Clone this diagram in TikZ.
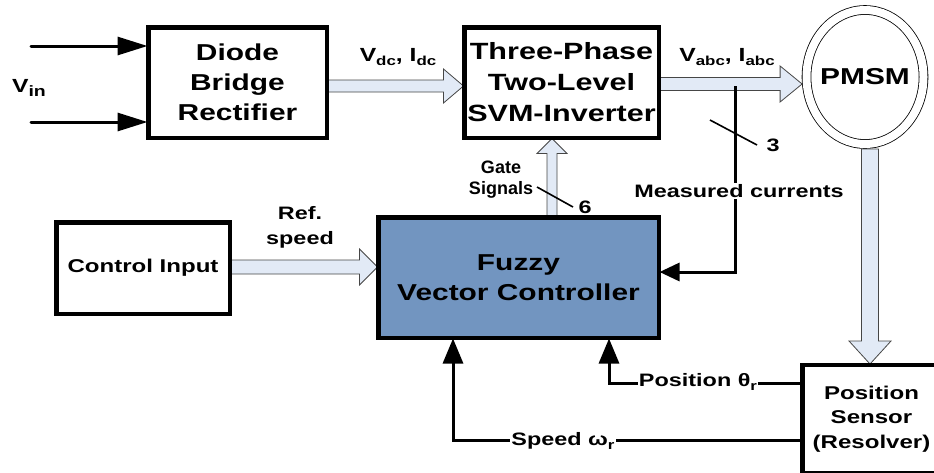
\documentclass[tikz,border=0pt]{standalone}
\usepackage{fontspec}
\setmainfont{Liberation Sans}[FakeStretch=1.3]
\newfontfamily\plainsans{Liberation Sans}
\usetikzlibrary{calc,arrows.meta,shapes.geometric}
\definecolor{ctrlblue}{RGB}{114,149,192}
\definecolor{hollowfill}{RGB}{226,234,246}
\definecolor{hollowline}{RGB}{70,70,70}
\newcommand\fs[2]{\fontsize{#1}{#2}\selectfont\bfseries}
\newcommand\lo[1]{\raisebox{-0.22em}{\fs{13}{13}#1}}
\newcommand\hollow[5]{%
  \coordinate (hb) at ($(#2)!#5pt!(#1)$);
  \filldraw[hollowarrow] ($(#1)!#3pt!90:(#2)$) -- ($(hb)!#3pt!90:(#2)$) -- ($(hb)!#4pt!90:(#2)$)
    -- (#2) -- ($(hb)!#4pt!-90:(#2)$) -- ($(hb)!#3pt!-90:(#2)$) -- ($(#1)!#3pt!-90:(#2)$) -- cycle;}
\begin{document}
\begin{tikzpicture}[x=1pt,y=-1pt,font=\bfseries,
  box/.style={draw,line width=3pt,fill=white,align=center,inner sep=0pt},
  hollowarrow/.style={fill=hollowfill,draw=hollowline,line width=0.8pt,line join=miter},
  wire/.style={line width=3pt},
  lab/.style={inner sep=1pt,align=center},
  slash/.style={line width=1.6pt}]
\useasboundingbox (0,0) rectangle (934,472);

% nodes (positions)
\node[box,minimum width=177pt,minimum height=109pt,font=\fs{23}{30}] (rect) at (237.5,82.5) {Diode\\Bridge\\Rectifier};
\node[box,minimum width=193pt,minimum height=109pt,font=\fs{23.5}{31}] (inv) at (561.5,82.5) {Three-Phase\\Two-Level\\SVM-Inverter};
\node[box,fill=ctrlblue,minimum width=279pt,minimum height=119pt,font=\fs{23}{30}] (ctrl) at (518.5,277.5) {Fuzzy\\Vector Controller};
\node[box,minimum width=172pt,minimum height=90pt,font=\fs{18.5}{24}] (ci) at (143,268) {Control Input};
\node[box,minimum width=137pt,minimum height=107pt,font=\fs{18.5}{24.5}] (sensor) at (871.5,419) {Position\\Sensor\\(Resolver)};

% hollow arrows
\coordinate (h1s) at ($(rect.east)+(0,3.5)$);
\coordinate (h1e) at (h1s -| inv.west);
\hollow{h1s}{h1e}{6}{17}{20}
\coordinate (h3s) at ($(ci.east)+(0,-1)$);
\coordinate (h3e) at (h3s -| ctrl.west);
\hollow{h3s}{h3e}{7}{18}{18}
\coordinate (h4s) at ($(ctrl.north)+(33.5,0)$);
\coordinate (h4e) at (h4s |- inv.south);
\hollow{h4s}{h4e}{5}{15}{15}

% PMSM
\node[ellipse,draw,line width=0.8pt,double,double distance=8pt,fill=white,minimum width=117pt,minimum height=134pt,inner sep=0pt] (pmsm) at (865,77) {};
\coordinate (h2s) at ($(inv.east)+(0,1.5)$);
\coordinate (h2e) at ($(pmsm.west)+(-4,7)$);
\hollow{h2s}{h2e}{6.5}{18}{22}
\coordinate (h5s) at ($(pmsm.south)+(5,4.5)$);
\coordinate (h5e) at (h5s |- sensor.north);
\hollow{h5s}{h5e}{8.5}{21}{23}
\node[font=\fs{23}{23}] (pmsmlab) at (pmsm) {PMSM};

% redraw box borders over arrow ends
\draw[line width=3pt] (rect.south west) rectangle (rect.north east);
\draw[line width=3pt] (inv.south west) rectangle (inv.north east);
\draw[line width=3pt] (ctrl.south west) rectangle (ctrl.north east);
\draw[line width=3pt] (ci.south west) rectangle (ci.north east);
\draw[line width=3pt] (sensor.south west) rectangle (sensor.north east);

% input lines
\coordinate (in1) at (31,46);
\coordinate (in2) at (31,122);
\draw[wire,line cap=round,-{Triangle[length=30pt,width=18pt]}] (in1) -- (in1 -| rect.west);
\draw[wire,line cap=round,-{Triangle[length=30pt,width=18pt]}] (in2) -- (in2 -| rect.west);

% measured currents
\coordinate (mtap) at (735,86);
\coordinate (mc) at (735,272);
\draw[wire,-{Triangle[length=20pt,width=18pt]}] (mtap) -- (mc) -- (mc -| ctrl.east);

% feedback
\coordinate (pc) at (609,383);
\coordinate (sc) at (453,440);
\draw[wire,-{Triangle[length=25pt,width=20pt]}] (sensor.west |- pc) -- (pc) -- (pc |- ctrl.south);
\draw[wire,-{Triangle[length=25pt,width=20pt]}] (sensor.west |- sc) -- (sc) -- (sc |- ctrl.south);

% slashes
\coordinate (g1) at (537,187); \coordinate (g2) at (573,207);
\draw[slash] (g1) -- (g2);
\coordinate (m1) at (710,120); \coordinate (m2) at (757,145);
\draw[slash] (m1) -- (m2);

% labels
\node[lab,font=\fs{19}{19}] (vin) at (29,88) {V{\raisebox{-0.22em}{\fs{15}{15}in}}};
\node[lab,font=\fs{19}{19}] (vdc) at (398,57) {V\lo{dc}, I\lo{dc}};
\node[lab,font=\fs{19}{19}] (vabc) at (727,57) {V\lo{abc}, I\lo{abc}};
\node[lab,font=\fs{18}{25}] (ref) at (300,227) {Ref.\\speed};
\node[lab,font=\plainsans\fs{18}{21}] (gate) at (501,180) {Gate\\Signals};
\node[lab,font=\fs{18}{18}] (six) at (585,207) {6};
\node[lab,font=\fs{18}{18}] (three) at (773,145) {3};
\node[lab,fill=white,font=\fs{18}{18}] (meas) at (739,191) {Measured currents};
\node[lab,fill=white,font=\fs{18}{18}] (posl) at (698,382) {Position θ\lo{r}};
\node[lab,fill=white,font=\fs{18}{18}] (spdl) at (563,441) {Speed ω\lo{r}};
\end{tikzpicture}
\end{document}
